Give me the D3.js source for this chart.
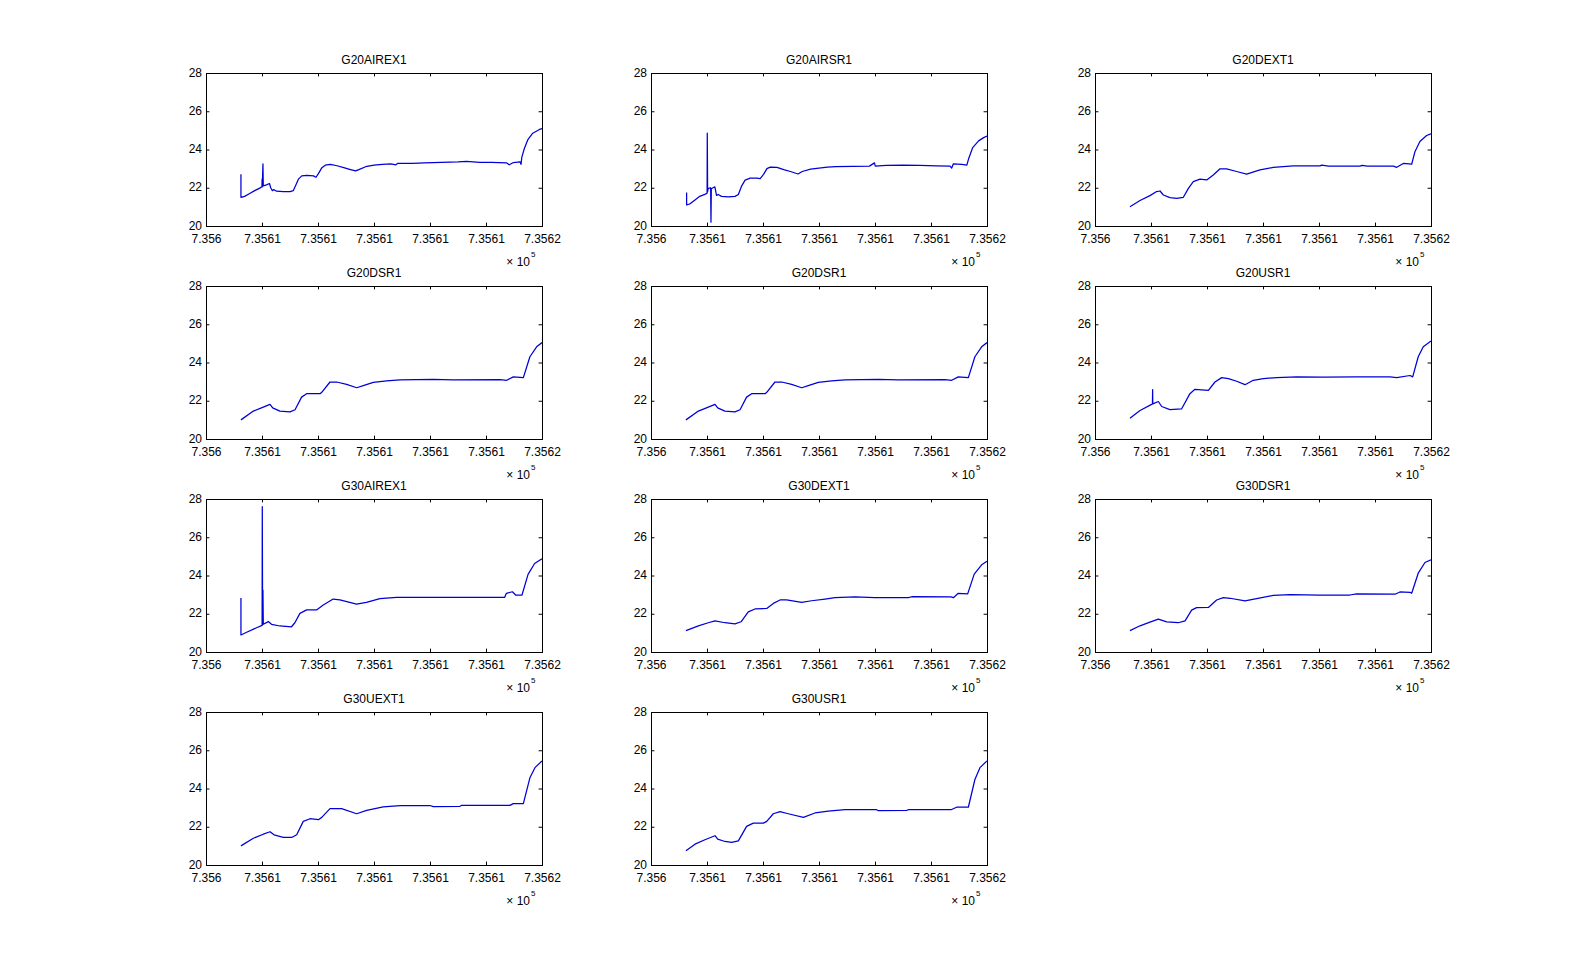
<!DOCTYPE html>
<html>
<head>
<meta charset="utf-8">
<script src="https://cdn.jsdelivr.net/npm/d3@7"></script>
<style>
  html, body { margin: 0; padding: 0; background: #ffffff; }
  svg { display: block; }
  text { font-family: "Liberation Sans", Arial, Helvetica, sans-serif; fill: #000; }
</style>
</head>
<body>
<svg id="fig" width="1584" height="973"></svg>
<script>
// ---------------- data ----------------
const titles = ["G20AIREX1", "G20AIRSR1", "G20DEXT1", "G20DSR1", "G20DSR1", "G20USR1",
                "G30AIREX1", "G30DEXT1", "G30DSR1", "G30UEXT1", "G30USR1"];

const xTickValues = [735600, 735603.3333, 735606.6667, 735610, 735613.3333, 735616.6667, 735620];
const xTickLabels = ["7.356", "7.3561", "7.3561", "7.3561", "7.3561", "7.3561", "7.3562"];
const yTickValues = [20, 22, 24, 26, 28];
const xDomain = [735600, 735620];
const yDomain = [20, 28];

const G20AIREX1 = [[735602.08,22.7],[735602.08,21.5],[735602.3,21.55],[735602.6,21.7],[735602.9,21.85],[735603.2,21.98],
 [735603.33,22.05],[735603.34,22.45],[735603.35,22.05],[735603.39,23.25],[735603.41,22.1],[735603.6,22.15],[735603.78,22.22],
 [735603.85,22.0],[735603.95,21.85],[735604.05,21.9],[735604.2,21.82],[735604.6,21.8],[735605.0,21.8],[735605.2,21.85],
 [735605.35,22.15],[735605.5,22.45],[735605.7,22.62],[735606.0,22.65],[735606.4,22.62],[735606.55,22.55],[735606.7,22.75],
 [735606.9,23.05],[735607.1,23.18],[735607.4,23.22],[735607.8,23.15],[735608.2,23.05],[735608.6,22.95],[735608.9,22.88],
 [735609.1,22.95],[735609.5,23.1],[735610.0,23.18],[735610.5,23.22],[735611.0,23.25],[735611.3,23.2],[735611.4,23.27],
 [735612.3,23.28],[735613.0,23.3],[735614.0,23.33],[735615.0,23.35],[735615.5,23.38],[735616.3,23.33],[735617.0,23.33],
 [735617.9,23.3],[735618.05,23.2],[735618.3,23.32],[735618.7,23.35],[735618.75,23.22],[735618.8,23.6],[735618.95,24.05],
 [735619.15,24.5],[735619.45,24.85],[735619.85,25.05],[735620.0,25.1]];

const G20AIRSR1 = [[735602.12,21.75],[735602.12,21.1],[735602.3,21.15],[735602.6,21.35],[735602.9,21.55],[735603.2,21.65],
 [735603.34,21.72],[735603.35,24.85],[735603.37,21.8],[735603.4,21.95],[735603.55,22.0],[735603.57,20.2],[735603.59,21.95],
 [735603.8,22.05],[735603.9,21.6],[735604.0,21.65],[735604.2,21.55],[735604.6,21.52],[735605.0,21.55],[735605.2,21.65],
 [735605.4,22.1],[735605.6,22.4],[735605.9,22.5],[735606.3,22.5],[735606.5,22.48],[735606.7,22.7],[735606.9,23.0],
 [735607.1,23.08],[735607.5,23.07],[735607.9,22.95],[735608.3,22.85],[735608.75,22.72],[735609.0,22.85],[735609.5,22.97],
 [735610.0,23.03],[735610.5,23.08],[735611.0,23.1],[735612.0,23.12],[735613.0,23.13],[735613.3,23.3],[735613.35,23.13],
 [735614.0,23.17],[735615.0,23.18],[735616.0,23.17],[735617.0,23.15],[735617.8,23.13],[735617.9,23.03],[735618.0,23.25],
 [735618.5,23.22],[735618.8,23.18],[735618.9,23.5],[735619.15,24.1],[735619.5,24.45],[735619.8,24.62],[735620.0,24.7]];

const G20DEXT1 = [[735602.08,21.01],[735602.68,21.33],[735603.27,21.59],[735603.67,21.8],[735603.87,21.83],[735604.07,21.62],
 [735604.46,21.48],[735604.86,21.45],[735605.26,21.5],[735605.56,21.97],[735605.85,22.32],[735606.25,22.45],[735606.65,22.41],
 [735607.04,22.67],[735607.44,22.99],[735607.84,22.99],[735608.43,22.85],[735609.03,22.71],[735609.82,22.93],[735610.61,23.06],
 [735611.8,23.14],[735613.39,23.14],[735613.5,23.18],[735613.9,23.13],[735615.77,23.13],[735615.9,23.17],[735616.2,23.13],
 [735617.76,23.13],[735617.96,23.07],[735618.35,23.27],[735618.85,23.23],[735619.05,23.9],[735619.34,24.42],[735619.74,24.73],
 [735620.0,24.82]];

const G20DSR1a = [[735602.08,21.0],[735602.82,21.46],[735603.41,21.67],[735603.81,21.81],[735603.97,21.63],[735604.4,21.46],
 [735605.0,21.42],[735605.3,21.53],[735605.69,22.19],[735605.99,22.37],[735606.79,22.37],[735606.89,22.44],[735607.38,22.98],
 [735607.78,22.98],[735608.37,22.86],[735608.97,22.68],[735609.36,22.79],[735609.96,22.96],[735610.75,23.04],[735611.55,23.09],
 [735613.53,23.12],[735614.72,23.09],[735617.5,23.1],[735617.9,23.07],[735618.29,23.25],[735618.89,23.21],[735619.28,24.3],
 [735619.68,24.82],[735620.0,25.04]];

const G20DSR1b = [[735602.08,21.0],[735602.82,21.46],[735603.41,21.67],[735603.81,21.81],[735603.97,21.63],[735604.4,21.46],
 [735605.0,21.42],[735605.3,21.53],[735605.69,22.19],[735605.99,22.37],[735606.79,22.37],[735606.89,22.44],[735607.38,22.98],
 [735607.78,22.98],[735608.37,22.86],[735608.97,22.68],[735609.36,22.79],[735609.96,22.96],[735610.75,23.04],[735611.55,23.09],
 [735613.53,23.12],[735614.72,23.09],[735617.5,23.1],[735617.9,23.07],[735618.29,23.25],[735618.89,23.21],[735619.28,24.3],
 [735619.68,24.82],[735620.0,25.04]];

const G20USR1 = [[735602.08,21.09],[735602.68,21.49],[735603.37,21.81],[735603.42,21.83],[735603.43,22.58],[735603.44,21.84],
 [735603.77,21.96],[735603.97,21.7],[735604.46,21.54],[735605.16,21.58],[735605.65,22.37],[735605.95,22.6],[735606.75,22.54],
 [735607.14,22.98],[735607.54,23.21],[735607.94,23.16],[735608.43,23.02],[735608.93,22.84],[735609.42,23.07],[735610.02,23.16],
 [735610.81,23.21],[735612.0,23.25],[735613.59,23.23],[735615.57,23.25],[735617.56,23.25],[735617.96,23.21],[735618.75,23.32],
 [735618.91,23.25],[735619.24,24.3],[735619.54,24.82],[735620.0,25.12]];

const G30AIREX1 = [[735602.08,22.83],[735602.08,20.89],[735602.42,21.03],[735603.01,21.27],[735603.34,21.39],[735603.35,27.6],
 [735603.37,21.42],[735603.39,23.24],[735603.41,21.45],[735603.71,21.59],[735603.9,21.45],[735604.4,21.36],[735605.09,21.32],
 [735605.29,21.53],[735605.59,22.02],[735605.99,22.2],[735606.58,22.2],[735606.98,22.46],[735607.57,22.77],[735607.97,22.72],
 [735608.96,22.5],[735609.55,22.6],[735610.35,22.79],[735611.34,22.86],[735613.32,22.86],[735615.1,22.86],[735617.78,22.86],
 [735617.88,23.07],[735618.24,23.15],[735618.43,22.98],[735618.81,22.98],[735619.17,24.06],[735619.56,24.63],[735620.0,24.88]];

const G30DEXT1 = [[735602.08,21.12],[735602.82,21.37],[735603.41,21.53],[735603.81,21.63],[735604.4,21.53],[735605.0,21.47],
 [735605.36,21.58],[735605.79,22.1],[735606.19,22.25],[735606.89,22.28],[735607.28,22.54],[735607.68,22.72],[735608.07,22.72],
 [735608.97,22.6],[735609.56,22.68],[735610.36,22.77],[735610.95,22.84],[735612.14,22.88],[735613.33,22.84],[735615.32,22.84],
 [735615.52,22.89],[735617.86,22.88],[735618.0,22.84],[735618.29,23.07],[735618.85,23.04],[735619.24,24.07],[735619.68,24.56],
 [735620.0,24.74]];

const G30DSR1 = [[735602.08,21.12],[735602.68,21.37],[735603.27,21.56],[735603.77,21.72],[735604.27,21.58],[735604.96,21.53],
 [735605.36,21.63],[735605.75,22.19],[735606.05,22.32],[735606.75,22.33],[735607.24,22.72],[735607.64,22.84],[735608.04,22.81],
 [735608.93,22.67],[735609.62,22.79],[735610.61,22.96],[735611.61,23.0],[735613.39,22.98],[735615.18,22.98],[735615.57,23.04],
 [735617.86,23.02],[735618.15,23.14],[735618.75,23.12],[735618.85,23.07],[735619.24,24.12],[735619.64,24.68],[735620.0,24.82]];

const G30UEXT1 = [[735602.08,21.0],[735602.82,21.4],[735603.41,21.61],[735603.81,21.74],[735604.05,21.58],[735604.6,21.44],
 [735605.1,21.44],[735605.4,21.58],[735605.79,22.28],[735606.19,22.42],[735606.69,22.37],[735606.89,22.49],[735607.38,22.95],
 [735608.07,22.95],[735608.97,22.68],[735609.56,22.86],[735610.55,23.04],[735611.55,23.11],[735613.33,23.11],[735613.53,23.05],
 [735615.12,23.07],[735615.22,23.12],[735618.09,23.12],[735618.29,23.21],[735618.89,23.21],[735619.28,24.56],[735619.58,25.09],
 [735620.0,25.44]];

const G30USR1 = [[735602.08,20.74],[735602.62,21.09],[735603.21,21.32],[735603.81,21.53],[735603.97,21.35],[735604.4,21.23],
 [735604.8,21.18],[735605.2,21.26],[735605.69,22.02],[735606.09,22.19],[735606.69,22.19],[735606.89,22.28],[735607.28,22.68],
 [735607.68,22.79],[735608.17,22.68],[735609.07,22.49],[735609.76,22.72],[735610.55,22.82],[735611.55,22.89],[735613.43,22.89],
 [735613.53,22.84],[735615.22,22.86],[735615.32,22.89],[735617.86,22.89],[735618.19,23.02],[735618.89,23.02],[735619.28,24.47],
 [735619.58,25.09],[735620.0,25.44]];

const seriesList = [G20AIREX1, G20AIRSR1, G20DEXT1, G20DSR1a, G20DSR1b, G20USR1,
                    G30AIREX1, G30DEXT1, G30DSR1, G30UEXT1, G30USR1];

// ---------------- layout ----------------
const colLeft = [206, 651, 1095];
const rowTop = [73, 286, 499, 712];
const W = 336, H = 153;
const tickLen = 3.4;
const fontSize = 12;
const FONT = '"Liberation Sans", Arial, Helvetica, sans-serif';

const svg = d3.select("#fig");
svg.append("rect").attr("width", 1584).attr("height", 973).attr("fill", "#ffffff");

seriesList.forEach((data, i) => {
  const r = Math.floor(i / 3), c = i % 3;
  const g = svg.append("g").attr("transform", `translate(${colLeft[c]},${rowTop[r]})`);

  const x = d3.scaleLinear().domain(xDomain).range([0, W]);
  const y = d3.scaleLinear().domain(yDomain).range([H, 0]);

  const clipId = "clip" + i;
  g.append("clipPath").attr("id", clipId)
    .append("rect").attr("x", 0).attr("y", 0).attr("width", W).attr("height", H);

  // data line
  g.append("path")
    .datum(data)
    .attr("clip-path", `url(#${clipId})`)
    .attr("fill", "none")
    .attr("stroke", "#0000d8")
    .attr("stroke-width", 1.25)
    .attr("stroke-linejoin", "round")
    .attr("d", d3.line().x(d => x(d[0])).y(d => y(d[1])).curve(d3.curveLinear));

  // axes
  const fmtX = (d, k) => xTickLabels[k];
  const xb = d3.axisBottom(x).tickValues(xTickValues).tickFormat(fmtX)
    .tickSizeInner(-tickLen).tickSizeOuter(0).tickPadding(4.5);
  const xt = d3.axisTop(x).tickValues(xTickValues).tickFormat("")
    .tickSizeInner(-tickLen).tickSizeOuter(0);
  const yl = d3.axisLeft(y).tickValues(yTickValues).tickFormat(d3.format("d"))
    .tickSizeInner(-tickLen).tickSizeOuter(0).tickPadding(4);
  const yr = d3.axisRight(y).tickValues(yTickValues).tickFormat("")
    .tickSizeInner(-tickLen).tickSizeOuter(0);

  const styleAxis = sel => {
    sel.select(".domain").remove();
    sel.selectAll("line").attr("stroke", "#000").attr("stroke-width", 1);
    sel.selectAll("text").attr("fill", "#000")
      .style("font-family", FONT)
      .style("font-size", fontSize + "px");
  };
  const gxb = g.append("g").attr("transform", `translate(0,${H})`).call(xb).call(styleAxis);
  gxb.selectAll("text").attr("dy", null).attr("y", 16.5);
  g.append("g").call(xt).call(styleAxis);
  const gyl = g.append("g").call(yl).call(styleAxis);
  gyl.selectAll("text").attr("dy", "0.25em");
  g.append("g").attr("transform", `translate(${W},0)`).call(yr).call(styleAxis);

  // box
  g.append("rect").attr("x", 0.5).attr("y", 0.5).attr("width", W).attr("height", H)
    .attr("fill", "none").attr("stroke", "#000").attr("stroke-width", 1);

  // title
  g.append("text")
    .attr("x", W / 2).attr("y", -9)
    .attr("text-anchor", "middle")
    .style("font-size", fontSize + "px")
    .text(titles[i]);

  // exponent label
  g.append("text")
    .attr("x", W - 12).attr("y", H + 40)
    .attr("text-anchor", "end")
    .style("font-size", fontSize + "px")
    .text("\u00d7 10");
  g.append("text")
    .attr("x", W - 11).attr("y", H + 31)
    .attr("text-anchor", "start")
    .style("font-size", "8px")
    .text("5");
});
</script>
</body>
</html>
